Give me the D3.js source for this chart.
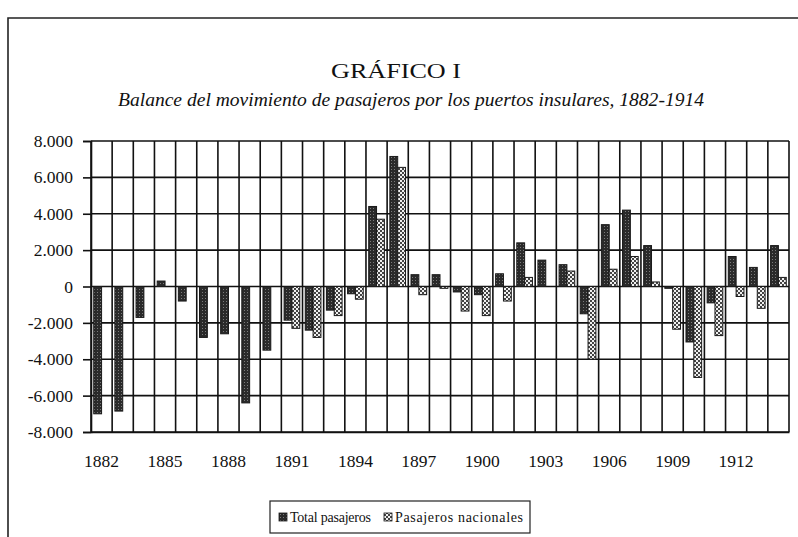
<!DOCTYPE html>
<html>
<head>
<meta charset="utf-8">
<script src="https://cdn.jsdelivr.net/npm/d3@7"></script>
<style>
  html, body { margin: 0; padding: 0; background: #fff; }
  svg { display: block; }
</style>
</head>
<body>
<svg id="chart" width="798" height="537"></svg>
<script>
// ---- data ----
const years = [1882,1883,1884,1885,1886,1887,1888,1889,1890,1891,1892,1893,1894,1895,1896,1897,1898,1899,1900,1901,1902,1903,1904,1905,1906,1907,1908,1909,1910,1911,1912,1913,1914];
const totalPasajeros = [-7000,-6850,-1700,300,-800,-2800,-2600,-6400,-3500,-1850,-2400,-1300,-400,4400,7150,650,650,-300,-450,700,2400,1450,1200,-1500,3400,4200,2250,-100,-3050,-900,1650,1050,2250];
const pasajerosNacionales = [null,null,null,null,null,null,null,null,null,-2300,-2800,-1600,-700,3700,6550,-450,-100,-1350,-1600,-800,500,null,850,-4000,950,1650,250,-2350,-5000,-2700,-550,-1200,500];
const seriesNames = ["Total pasajeros", "Pasajeros nacionales"];
const yTickValues = [-8000,-6000,-4000,-2000,0,2000,4000,6000,8000];
const xTickLabels = [1882,1885,1888,1891,1894,1897,1900,1903,1906,1909,1912];
const titleText = "GRÁFICO I";
const subtitleText = "Balance del movimiento de pasajeros por los puertos insulares, 1882-1914";

// ---- setup ----
const SERIF = "'Liberation Serif', 'Times New Roman', 'DejaVu Serif', serif";
const svg = d3.select("#chart");
const locale = d3.formatLocale({decimal: ",", thousands: ".", grouping: [3], currency: ["", ""], minus: "-"});
const fmt = locale.format(",d");

const plot = {left: 91, right: 789, top: 141, bottom: 432};
const x = d3.scaleBand().domain(years).range([plot.left, plot.right]).paddingInner(0).paddingOuter(0);
const xs = d3.scaleBand().domain(seriesNames).range([0, x.bandwidth()]).paddingInner(0).paddingOuter(0.35);
const y = d3.scaleLinear().domain([-8000, 8000]).range([plot.bottom, plot.top]);

function serifText(sel, size) {
  return sel.attr("font-family", SERIF).style("font-family", SERIF)
    .attr("font-size", size).style("font-size", size + "px").attr("fill", "#111");
}

// patterns
const defs = svg.append("defs");
const pd = defs.append("pattern").attr("id", "darkPat").attr("patternUnits", "userSpaceOnUse")
  .attr("width", 3).attr("height", 3);
pd.append("rect").attr("width", 3).attr("height", 3).attr("fill", "#2a2a2a");
pd.append("rect").attr("x", 1).attr("y", 1).attr("width", 1).attr("height", 1).attr("fill", "#7a7a7a");
const ph = defs.append("pattern").attr("id", "checkPat").attr("patternUnits", "userSpaceOnUse")
  .attr("width", 4).attr("height", 4);
ph.append("rect").attr("width", 4).attr("height", 4).attr("fill", "#444");
ph.append("rect").attr("x", 0).attr("y", 0).attr("width", 2).attr("height", 2).attr("fill", "#f0f0f0");
ph.append("rect").attr("x", 2).attr("y", 2).attr("width", 2).attr("height", 2).attr("fill", "#f0f0f0");

// frame (cropped scan border)
svg.append("path").attr("d", "M8,537 V18 H798").attr("fill", "none").attr("stroke", "#222").attr("stroke-width", 1.6);

// titles
serifText(svg.append("text"), 22).attr("x", 396).attr("y", 78).attr("text-anchor", "middle")
  .attr("textLength", 130).attr("lengthAdjust", "spacingAndGlyphs").text(titleText);
serifText(svg.append("text"), 18.5).attr("x", 411).attr("y", 106).attr("text-anchor", "middle")
  .attr("font-style", "italic").style("font-style", "italic")
  .attr("textLength", 586).attr("lengthAdjust", "spacingAndGlyphs").text(subtitleText);

// horizontal gridlines
svg.append("g").selectAll("line").data(yTickValues).join("line")
  .attr("x1", plot.left).attr("x2", plot.right)
  .attr("y1", d => y(d)).attr("y2", d => y(d))
  .attr("stroke", "#111").attr("stroke-width", 1.6);

// vertical gridlines at category boundaries
svg.append("g").selectAll("line").data(years).join("line")
  .attr("x1", d => x(d)).attr("x2", d => x(d))
  .attr("y1", plot.top).attr("y2", plot.bottom)
  .attr("stroke", "#111").attr("stroke-width", 1.6);
svg.append("line").attr("x1", plot.right).attr("x2", plot.right)
  .attr("y1", plot.top).attr("y2", plot.bottom)
  .attr("stroke", "#111").attr("stroke-width", 1.6);

// bars
const seriesData = [totalPasajeros, pasajerosNacionales];
const fills = ["url(#darkPat)", "url(#checkPat)"];
seriesData.forEach((vals, si) => {
  const recs = years.map((yr, i) => ({yr, v: vals[i]})).filter(d => d.v !== null);
  svg.append("g").selectAll("rect").data(recs).join("rect")
    .attr("x", d => x(d.yr) + xs(seriesNames[si]))
    .attr("width", xs.bandwidth())
    .attr("y", d => y(Math.max(0, d.v)))
    .attr("height", d => Math.abs(y(d.v) - y(0)))
    .attr("fill", fills[si])
    .attr("stroke", "#1a1a1a").attr("stroke-width", 1);
});

// y axis
const yAxis = svg.append("g").attr("transform", `translate(${plot.left},0)`)
  .call(d3.axisLeft(y).tickValues(yTickValues).tickFormat(fmt).tickSize(8).tickPadding(10));
yAxis.attr("font-family", SERIF);
yAxis.select(".domain").attr("stroke", "#111").attr("stroke-width", 1.6);
yAxis.selectAll(".tick line").attr("stroke", "#111").attr("stroke-width", 1.6);
serifText(yAxis.selectAll(".tick text"), 17.5);

// x axis
const xAxis = svg.append("g").attr("transform", `translate(0,${plot.bottom})`)
  .call(d3.axisBottom(x).tickValues(xTickLabels).tickSize(0).tickPadding(23));
xAxis.attr("font-family", SERIF);
xAxis.select(".domain").attr("stroke", "#111").attr("stroke-width", 1.6);
serifText(xAxis.selectAll(".tick text"), 17.5);

// legend
const lg = svg.append("g");
lg.append("rect").attr("x", 270).attr("y", 501).attr("width", 260).attr("height", 32)
  .attr("fill", "#fff").attr("stroke", "#222").attr("stroke-width", 1.2);
const legendItems = [
  {name: seriesNames[0], fill: fills[0], sx: 279, len: 81},
  {name: seriesNames[1], fill: fills[1], sx: 384, len: 128}
];
legendItems.forEach(it => {
  lg.append("rect").attr("x", it.sx).attr("y", 513).attr("width", 8).attr("height", 8)
    .attr("fill", it.fill).attr("stroke", "#1a1a1a").attr("stroke-width", 0.8);
  serifText(lg.append("text"), 14).attr("x", it.sx + 11).attr("y", 522)
    .attr("textLength", it.len).attr("lengthAdjust", "spacing").text(it.name);
});
</script>
</body>
</html>
